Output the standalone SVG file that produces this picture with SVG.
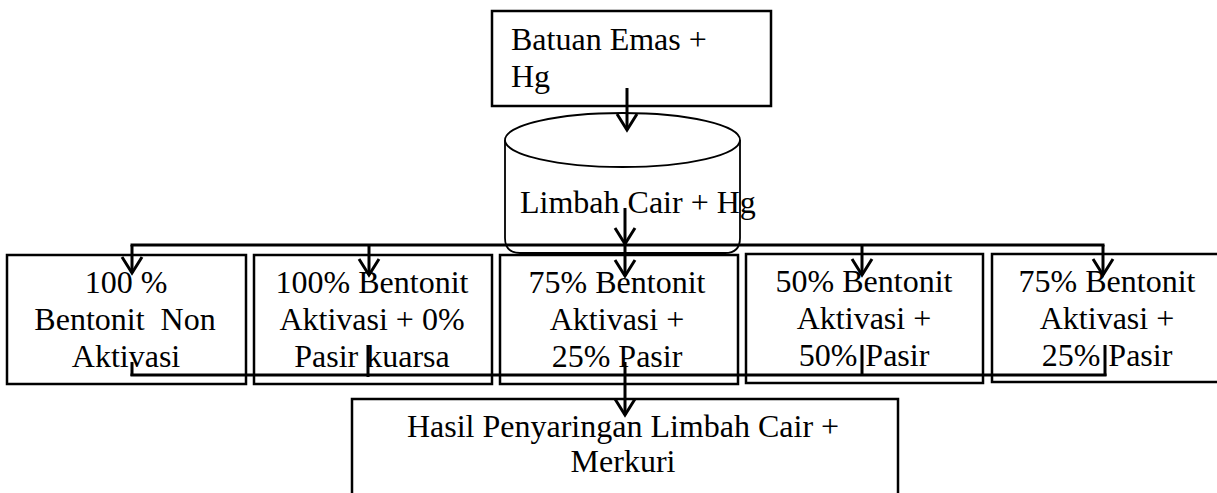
<svg xmlns="http://www.w3.org/2000/svg" width="1217" height="493" viewBox="0 0 1217 493">
<style>
.box{fill:#fff;stroke:#000;stroke-width:2.5}
.cyl{fill:#fff;stroke:#000;stroke-width:1.8}
.t{font-family:"Liberation Serif","Times New Roman",serif;font-size:32px;fill:#000}
.c{text-anchor:middle}
.ln{fill:none;stroke:#000;stroke-width:3}
</style>
<defs>
<marker id="arr" viewBox="-20 -15 25 30" markerWidth="25" markerHeight="30" refX="0" refY="0" orient="auto" markerUnits="userSpaceOnUse" overflow="visible">
<path d="M-16,-10 L0,0 L-16,10" fill="none" stroke="#000" stroke-width="3"/>
</marker>
</defs>
<rect width="1217" height="493" fill="#fff"/>

<g id="batuan">
<rect class="box" x="492" y="11" width="279" height="95"/>
<text class="t" x="511" y="50">Batuan Emas +</text>
<text class="t" x="511" y="87">Hg</text>
</g>

<g id="limbah">
<path class="cyl" d="M505,140 L505,238 Q505,253 520,253 L725,253 Q740,253 740,238 L740,140"/>
<ellipse class="cyl" cx="622.5" cy="140" rx="117.5" ry="27"/>
<text class="t" x="520" y="213">Limbah Cair + Hg</text>
</g>

<g id="b1">
<rect class="box" x="7" y="255" width="239" height="129"/>
<text class="t c" x="126" y="293">100 %</text>
<text class="t c" x="125" y="330" style="white-space:pre">Bentonit  Non</text>
<text class="t c" x="126" y="367">Aktivasi</text>
</g>
<g id="b2">
<rect class="box" x="254" y="255" width="238" height="129"/>
<text class="t c" x="372" y="293">100% Bentonit</text>
<text class="t c" x="372" y="330">Aktivasi + 0%</text>
<text class="t c" x="372" y="367">Pasir kuarsa</text>
</g>
<g id="b3">
<rect class="box" x="500" y="255" width="238" height="129"/>
<text class="t c" x="617" y="293">75% Bentonit</text>
<text class="t c" x="617" y="330">Aktivasi +</text>
<text class="t c" x="617" y="367">25% Pasir</text>
</g>
<g id="b4">
<rect class="box" x="746" y="254" width="237" height="129"/>
<text class="t c" x="864" y="292">50% Bentonit</text>
<text class="t c" x="864" y="329">Aktivasi +</text>
<text class="t c" x="864" y="366">50% Pasir</text>
</g>
<g id="b5">
<rect class="box" x="992" y="254" width="240" height="128"/>
<text class="t c" x="1107" y="292">75% Bentonit</text>
<text class="t c" x="1107" y="329">Aktivasi +</text>
<text class="t c" x="1107" y="366">25% Pasir</text>
</g>

<g id="hasil">
<rect class="box" x="352" y="399" width="546" height="110"/>
<text class="t c" x="623" y="437">Hasil Penyaringan Limbah Cair +</text>
<text class="t c" x="623" y="472">Merkuri</text>
</g>

<g id="connectors">
<line class="ln" x1="627" y1="88" x2="627" y2="130" marker-end="url(#arr)"/>
<line class="ln" x1="625" y1="208" x2="625" y2="244" marker-end="url(#arr)"/>
<line class="ln" x1="130.5" y1="245" x2="1104.5" y2="245"/>
<line class="ln" x1="132" y1="245" x2="132" y2="273" marker-end="url(#arr)"/>
<line class="ln" x1="369" y1="245" x2="369" y2="275" marker-end="url(#arr)"/>
<line class="ln" x1="625" y1="245" x2="625" y2="276" marker-end="url(#arr)"/>
<line class="ln" x1="862" y1="245" x2="862" y2="275" marker-end="url(#arr)"/>
<line class="ln" x1="1103" y1="245" x2="1103" y2="275" marker-end="url(#arr)"/>
<line class="ln" x1="130.5" y1="375" x2="1106.5" y2="375"/>
<line class="ln" x1="132" y1="362" x2="132" y2="376"/>
<line class="ln" x1="368" y1="345" x2="368" y2="377"/>
<line class="ln" x1="862" y1="345" x2="862" y2="376"/>
<line class="ln" x1="1105" y1="345" x2="1105" y2="376"/>
<line class="ln" x1="625" y1="362" x2="625" y2="415" marker-end="url(#arr)"/>
</g>
</svg>
